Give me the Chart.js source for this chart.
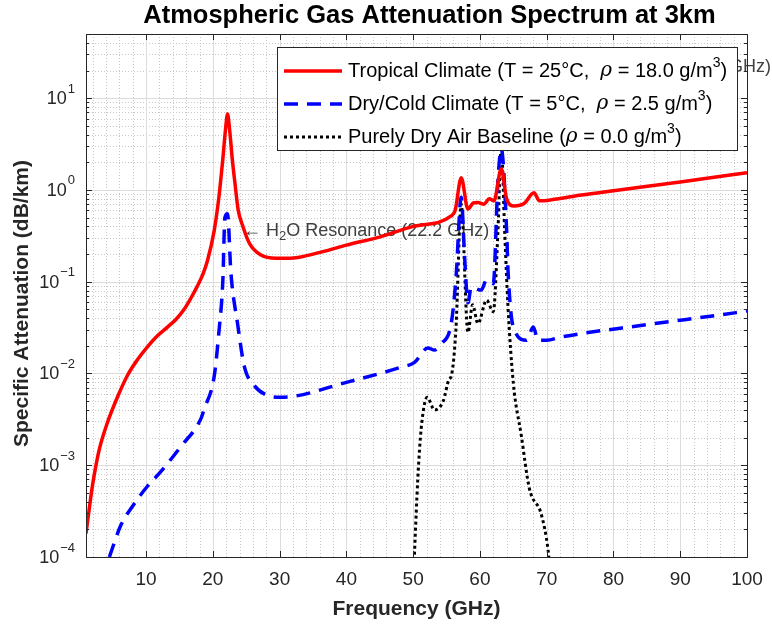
<!DOCTYPE html>
<html><head><meta charset="utf-8">
<script src="https://cdn.jsdelivr.net/npm/chart.js@4/dist/chart.umd.min.js"></script>
<style>html,body{margin:0;padding:0;background:#fff}#wrap{width:772px;height:628px}</style>
</head><body><div id="wrap"><canvas id="c" width="772" height="628"></canvas></div>
<script>
const chartTitle = "Atmospheric Gas Attenuation Spectrum at 3km";
const xAxisTitle = "Frequency (GHz)";
const yAxisTitle = "Specific Attenuation (dB/km)";
const seriesLabels = [
  "Tropical Climate (T = 25°C,  ρ = 18.0 g/m³)",
  "Dry/Cold Climate (T = 5°C,  ρ = 2.5 g/m³)",
  "Purely Dry Air Baseline (ρ = 0.0 g/m³)"
];
const annotationH2O = "← H₂O Resonance (22.2 GHz)";
const annotationO2 = "← O₂ Resonance (60 GHz)";
const xTickValues = [10, 20, 30, 40, 50, 60, 70, 80, 90, 100];
const yTickExponents = [-4, -3, -2, -1, 0, 1];

const tropicalFreq  = [1.0, 1.7, 2.2, 3.0, 4.2, 5.7, 7.2, 8.7, 10.2, 11.7, 13.2, 14.5, 15.7, 16.7, 17.7, 18.5, 19.2, 20.2, 20.9, 21.5, 21.9, 22.2, 22.5, 22.9, 23.3, 23.8, 24.5, 25.5, 27.2, 29.5, 31.5, 36.2, 40, 45.2, 50, 55.7, 56.3, 57.2, 58.2, 59.0, 59.7, 60.6, 61.4, 62.1, 63.2, 64.0, 65.1, 66.6, 68.1, 68.9, 70.7, 75.2, 80, 90, 100];
const tropicalAtten = [1.8e-4, 4.4e-4, 7.6e-4, 1.5e-3, 2.9e-3, 5.5e-3, 9.5e-3, 0.0141, 0.0195, 0.0257, 0.032, 0.039, 0.050, 0.066, 0.090, 0.12, 0.17, 0.36, 0.83, 2.2, 4.6, 6.7, 4.6, 2.2, 1.2, 0.6, 0.4, 0.26, 0.195, 0.18, 0.18, 0.21, 0.25, 0.31, 0.40, 0.52, 0.6, 1.36, 0.62, 0.72, 0.73, 0.70, 0.80, 0.76, 1.7, 0.80, 0.67, 0.71, 0.93, 0.76, 0.78, 0.88, 0.98, 1.22, 1.54];

const dryColdFreq  = [4.5, 6.2, 8.0, 10.2, 12.2, 15.2, 18.2, 18.7, 20.2, 20.9, 21.5, 21.8, 22.2, 22.7, 23.7, 24.7, 26.2, 28.2, 30.2, 40, 48.2, 50.2, 52.2, 53.2, 54.2, 55.7, 56.4, 57.2, 57.7, 58.2, 58.7, 60.2, 61.0, 62.0, 62.7, 63.2, 64.0, 64.2, 65.0, 67.0, 68.0, 68.7, 70.0, 72.2, 85, 98.4, 100];
const dryColdAtten = [1.0e-4, 2.2e-4, 3.6e-4, 5.9e-4, 8.5e-4, 1.6e-3, 3.2e-3, 4.1e-3, 9.3e-3, 0.028, 0.105, 0.5, 0.55, 0.126, 0.035, 0.012, 7.4e-3, 5.75e-3, 5.5e-3, 8.0e-3, 0.0117, 0.0132, 0.019, 0.018, 0.021, 0.035, 0.105, 0.83, 0.19, 0.059, 0.087, 0.081, 0.105, 0.095, 1.26, 2.8, 0.36, 0.135, 0.032, 0.023, 0.032, 0.023, 0.023, 0.025, 0.034, 0.046, 0.048];

const dryAirFreq  = [50.0, 50.2, 50.7, 51.2, 52.1, 53.2, 54.5, 55.4, 55.7, 56.4, 57.2, 58.2, 58.9, 59.7, 61.0, 62.0, 62.7, 63.2, 63.7, 64.2, 65.0, 66.2, 67.4, 69.2, 70.2, 70.5];
const dryAirAtten = [5e-5, 1.1e-4, 7.2e-4, 2.5e-3, 5.5e-3, 4.0e-3, 5.0e-3, 8.7e-3, 9.3e-3, 0.03, 0.7, 0.028, 0.056, 0.035, 0.063, 0.047, 0.36, 3.0, 0.36, 0.054, 7.9e-3, 2.1e-3, 5.6e-4, 2.9e-4, 1.2e-4, 7e-5];

const seriesColors = ["#ff0000", "#0000ff", "#000000"];
const seriesDash = [[], [14, 9], [3, 3]];
const FONT = '"Liberation Sans", Arial, sans-serif';
const AXIS_COLOR = '#262626';

function toXY(fx, vy) { return fx.map((f, i) => ({ x: f, y: vy[i] })); }

function richRuns(str) {
  const runs = []; let buf = '';
  for (const ch of str) {
    let kind = null, t = ch;
    if (ch === 'ρ') kind = 'greek';
    else if (ch === '³') { kind = 'sup'; t = '3'; }
    else if (ch === '₂') { kind = 'sub'; t = '2'; }
    if (kind) { if (buf) runs.push({ t: buf, kind: 'n' }); buf = ''; runs.push({ t, kind }); }
    else buf += ch;
  }
  if (buf) runs.push({ t: buf, kind: 'n' });
  return runs;
}
function drawRich(ctx, str, x, y, size, color, align) {
  const runs = richRuns(str);
  const fontFor = k => k === 'greek' ? `italic ${size}px "DejaVu Serif", serif`
    : (k === 'sup' || k === 'sub') ? `${Math.round(size * 0.7)}px ${FONT}` : `${size}px ${FONT}`;
  let w = 0;
  runs.forEach(r => { ctx.font = fontFor(r.kind); r.w = ctx.measureText(r.t).width; w += r.w; });
  let cx = align === 'right' ? x - w : align === 'center' ? x - w / 2 : x;
  ctx.fillStyle = color; ctx.textBaseline = 'middle'; ctx.textAlign = 'left';
  runs.forEach(r => {
    ctx.font = fontFor(r.kind);
    const dy = r.kind === 'sup' ? -size * 0.4 : r.kind === 'sub' ? size * 0.32 : 0;
    ctx.fillText(r.t, cx, y + dy); cx += r.w;
  });
  return w;
}

function line(ctx, x1, y1, x2, y2) { ctx.beginPath(); ctx.moveTo(x1, y1); ctx.lineTo(x2, y2); ctx.stroke(); }

const gridPlugin = {
  id: 'matlabGrid',
  beforeDatasetsDraw(chart) {
    const ctx = chart.ctx, { left, right, top, bottom } = chart.chartArea;
    const xs = chart.scales.x, ys = chart.scales.y;
    ctx.save();
    ctx.lineWidth = 1;
    ctx.strokeStyle = '#c8c8c8'; ctx.setLineDash([1, 2]);
    for (let f = 2; f < 100; f += 2) {
      if (f % 10 === 0) continue;
      const px = Math.round(xs.getPixelForValue(f)) + 0.5; line(ctx, px, top, px, bottom);
    }
    for (const e of yTickExponents) for (let m = 2; m <= 9; m++) {
      const v = m * Math.pow(10, e); if (v > ys.max) break;
      const py = Math.round(ys.getPixelForValue(v)) + 0.5; line(ctx, left, py, right, py);
    }
    ctx.setLineDash([]); ctx.strokeStyle = '#dcdcdc';
    for (const f of xTickValues) { const px = Math.round(xs.getPixelForValue(f)) + 0.5; line(ctx, px, top, px, bottom); }
    for (const e of yTickExponents) { const py = Math.round(ys.getPixelForValue(Math.pow(10, e))) + 0.5; line(ctx, left, py, right, py); }
    // text annotations (under the curves)
    drawRich(ctx, annotationH2O, xs.getPixelForValue(24.5), ys.getPixelForValue(0.36), 18, '#404040', 'left');
    ctx.restore();
  },
  afterDatasetsDraw(chart) {
    const ctx = chart.ctx, { left, right, top, bottom } = chart.chartArea;
    const xs = chart.scales.x, ys = chart.scales.y;
    ctx.save();
    // O2 annotation (mostly hidden behind legend)
    drawRich(ctx, annotationO2, 771, ys.getPixelForValue(22), 18, '#404040', 'right');
    // axes box + ticks
    ctx.strokeStyle = AXIS_COLOR; ctx.lineWidth = 1; ctx.setLineDash([]);
    ctx.strokeRect(Math.round(left) + 0.5, Math.round(top) + 0.5, Math.round(right - left), Math.round(bottom - top));
    for (const f of xTickValues) {
      const px = Math.round(xs.getPixelForValue(f)) + 0.5;
      line(ctx, px, bottom, px, bottom - 6); line(ctx, px, top, px, top + 6);
    }
    for (const e of yTickExponents) {
      for (let m = 1; m <= 9; m++) {
        const v = m * Math.pow(10, e); if (v > ys.max) break;
        const py = Math.round(ys.getPixelForValue(v)) + 0.5; const L = m === 1 ? 6 : 3;
        line(ctx, left, py, left + L, py); line(ctx, right, py, right - L, py);
      }
    }
    // tick labels
    ctx.fillStyle = AXIS_COLOR; ctx.textAlign = 'center'; ctx.textBaseline = 'middle';
    ctx.font = `19px ${FONT}`;
    for (const f of xTickValues) ctx.fillText(String(f), xs.getPixelForValue(f), bottom + 23);
    for (const e of yTickExponents) {
      const py = ys.getPixelForValue(Math.pow(10, e));
      const es = String(e).replace('-', '−');
      ctx.font = `13px ${FONT}`; const ew = ctx.measureText(es).width;
      const ex = 75 - ew;
      ctx.textAlign = 'left';
      ctx.fillText(es, ex, py - 9);
      ctx.font = `18px ${FONT}`; ctx.textAlign = 'right';
      ctx.fillText('10', ex - 1, py + 1);
    }
    // axis titles
    ctx.font = `bold 21px ${FONT}`; ctx.textAlign = 'center'; ctx.fillStyle = AXIS_COLOR;
    ctx.fillText(xAxisTitle, (left + right) / 2, 609);
    ctx.save(); ctx.translate(22, (top + bottom) / 2 + 8); ctx.rotate(-Math.PI / 2);
    ctx.fillText(yAxisTitle, 0, 0); ctx.restore();
    ctx.fillStyle = '#000';
    ctx.font = `bold 25.5px ${FONT}`;
    ctx.fillText(chartTitle, (left + right) / 2 + 13, 16);
    // legend
    const lx = 277, ly = 47, lw = 460, lh = 103;
    ctx.fillStyle = '#fff'; ctx.fillRect(lx, ly, lw, lh);
    ctx.strokeStyle = AXIS_COLOR; ctx.lineWidth = 1; ctx.strokeRect(lx + 0.5, ly + 0.5, lw, lh);
    const rows = [71, 104, 137];
    chart.data.datasets.forEach((ds, i) => {
      const y = rows[i];
      ctx.save();
      ctx.strokeStyle = ds.borderColor; ctx.lineWidth = ds.borderWidth; ctx.setLineDash(ds.borderDash || []);
      ctx.lineCap = 'butt';
      line(ctx, 284, y, 342, y);
      ctx.restore();
      drawRich(ctx, ds.label, 348, y, 20, '#000', 'left');
    });
    ctx.restore();
  }
};

new Chart(document.getElementById('c'), {
  type: 'line',
  data: {
    datasets: [
      { label: seriesLabels[0], data: toXY(tropicalFreq, tropicalAtten), borderColor: seriesColors[0], borderWidth: 3.5, borderDash: seriesDash[0] },
      { label: seriesLabels[1], data: toXY(dryColdFreq, dryColdAtten), borderColor: seriesColors[1], borderWidth: 3.5, borderDash: seriesDash[1] },
      { label: seriesLabels[2], data: toXY(dryAirFreq, dryAirAtten), borderColor: seriesColors[2], borderWidth: 3, borderDash: seriesDash[2] }
    ].map(d => Object.assign(d, { pointRadius: 0, fill: false, cubicInterpolationMode: 'monotone' }))
  },
  options: {
    responsive: false, animation: false, devicePixelRatio: 1,
    layout: { padding: { top: 34, right: 25, left: 0, bottom: 0 } },
    plugins: { legend: { display: false }, title: { display: false }, tooltip: { enabled: false } },
    scales: {
      x: { type: 'linear', min: 1, max: 100, grid: { display: false }, border: { display: false },
           ticks: { display: false }, afterFit: s => { s.height = 71; } },
      y: { type: 'logarithmic', min: 1e-4, max: 50, grid: { display: false }, border: { display: false },
           ticks: { display: false }, afterFit: s => { s.width = 86; } }
    }
  },
  plugins: [gridPlugin]
});
</script></body></html>
